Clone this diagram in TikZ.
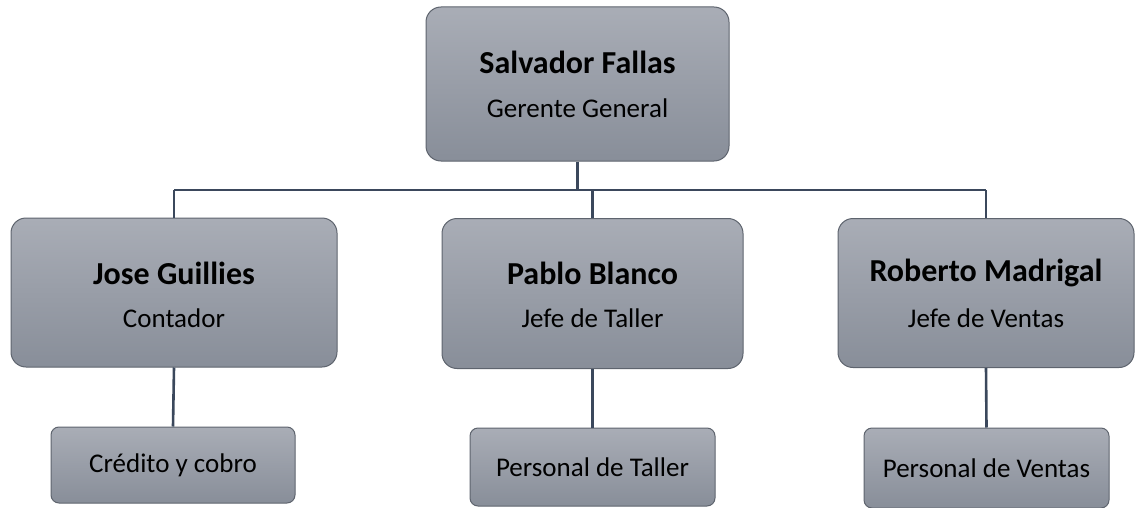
\documentclass[tikz,border=0pt]{standalone}
\usepackage{fontspec}
\setmainfont{Carlito}
\definecolor{boxtop}{HTML}{A9ADB6}
\definecolor{boxbot}{HTML}{888E99}
\definecolor{boxedge}{HTML}{5E646E}
\definecolor{linkcol}{HTML}{3B485C}
\tikzset{
  bigbox/.style={draw=boxedge, line width=1pt, rounded corners=15pt,
    top color=boxtop, bottom color=boxbot, align=center, inner sep=0pt},
  smallbox/.style={draw=boxedge, line width=1pt, rounded corners=8pt,
    top color=boxtop, bottom color=boxbot, align=center, inner sep=0pt,
    font=\fontsize{27}{31}\selectfont},
  link/.style={draw=linkcol, line width=2.6pt},
  nm/.style={font=\fontsize{32}{36}\selectfont\bfseries},
  ttl/.style={font=\fontsize{27}{31}\selectfont}
}
\begin{document}
\begin{tikzpicture}[x=1pt,y=-1pt]
\useasboundingbox (0,0) rectangle (1137,508);
% boxes
\node[bigbox, minimum width=303pt, minimum height=154pt] (top) at (577.5,84) {};
\node[bigbox, minimum width=326pt, minimum height=149pt] (jose) at (174,292.5) {};
\node[bigbox, minimum width=301pt, minimum height=150pt] (pablo) at (592.5,293.5) {};
\node[bigbox, minimum width=296pt, minimum height=149pt] (rob) at (986,293) {};
\node[smallbox, minimum width=244pt, minimum height=76pt] (cred) at (173,465) {Crédito y cobro};
\node[smallbox, minimum width=245pt, minimum height=78pt] (taller) at (592.5,467) {Personal de Taller};
\node[smallbox, minimum width=245pt, minimum height=80pt] (ventas) at (986.5,468) {Personal de Ventas};
% texts
\node[nm] (topn) at (577.5,62) {Salvador Fallas};
\node[ttl] (topt) at (577.5,108) {Gerente General};
\node[nm] (josen) at (174,273) {Jose Guillies};
\node[ttl] (joset) at (174,318) {Contador};
\node[nm] (pablon) at (592.5,273) {Pablo Blanco};
\node[ttl] (pablot) at (592.5,318) {Jefe de Taller};
\node[nm] (robn) at (986,273) {Roberto Madrigal};
\node[ttl] (robt) at (986,318) {Jefe de Ventas};
% connectors
\coordinate (busL) at (174,190);
\coordinate (busR) at (986,190);
\draw[link] (top.south) -- (top.south |- busL);
\draw[link] (busL) -- (busR);
\draw[link] (busL) -- (jose.north);
\draw[link] (pablo.north |- busL) -- (pablo.north);
\draw[link] (busR) -- (rob.north);
\draw[link] (jose.south) -- (cred.north);
\draw[link] (pablo.south) -- (taller.north);
\draw[link] (rob.south) -- (ventas.north);
\end{tikzpicture}
\end{document}
